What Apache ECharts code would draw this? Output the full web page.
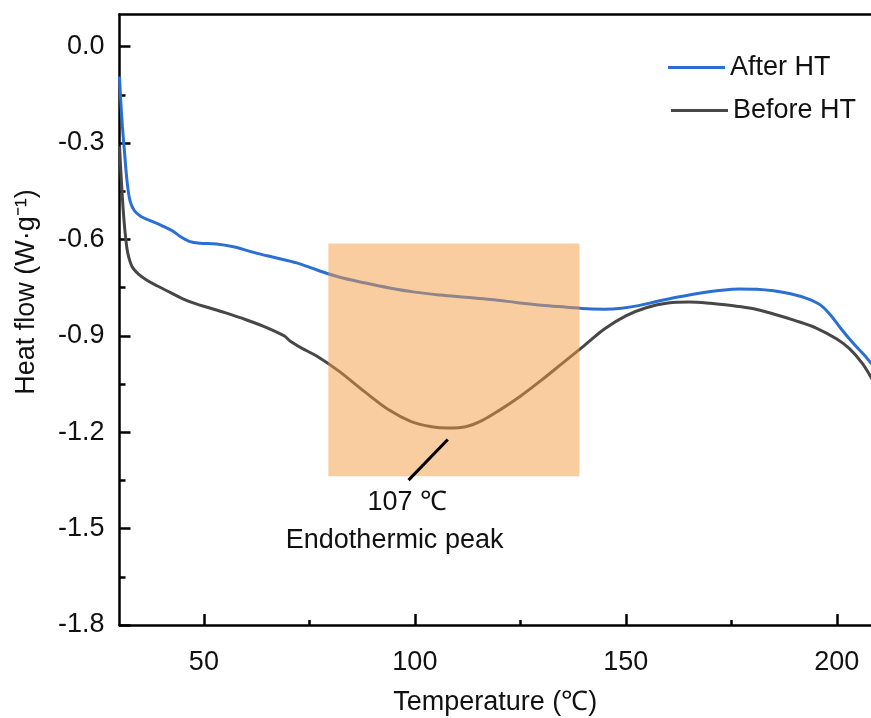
<!DOCTYPE html>
<html>
<head>
<meta charset="utf-8">
<script src="https://cdn.jsdelivr.net/npm/echarts@6/dist/echarts.min.js"></script>
<style>
  html, body { margin: 0; padding: 0; background: #fff; }
  #chart { width: 871px; height: 718px; }
</style>
</head>
<body>
<div id="chart"></div>
<script>
// DSC heat-flow curves (temperature in °C, heat flow in W/g)
const afterT = [30.0, 30.3, 30.7, 31.2, 31.8, 32.5, 33.5, 35.0, 37.0, 40.0, 42.5, 44.5, 46.5, 49.0, 53.0, 57.0,
  62.0, 67.0, 72.0, 77.0, 82.0, 88.0, 94.0, 100.0, 106.0, 112.0, 118.0, 124.0, 130.0, 136.0, 141.0, 145.0,
  149.0, 153.0, 157.0, 162.0, 167.0, 172.0, 177.0, 181.0, 185.0, 189.0, 193.0, 196.0, 198.5, 201.0, 204.0,
  206.5, 208.1, 209.5];
const afterV = [-0.093, -0.170, -0.250, -0.330, -0.420, -0.480, -0.510, -0.528, -0.540, -0.557, -0.573, -0.592, -0.606, -0.612, -0.614, -0.623,
  -0.641, -0.657, -0.673, -0.696, -0.717, -0.735, -0.751, -0.764, -0.773, -0.780, -0.787, -0.796, -0.805, -0.811, -0.816, -0.817,
  -0.814, -0.806, -0.794, -0.780, -0.768, -0.759, -0.754, -0.755, -0.760, -0.769, -0.784, -0.803, -0.835, -0.878, -0.925,
  -0.960, -0.985, -1.005];

const beforeT = [30.0, 30.5, 31.0, 31.5, 32.0, 33.0, 34.5, 36.5, 39.0, 42.0, 45.0, 48.0, 51.0, 55.0, 60.0, 65.0,
  69.0, 70.5, 73.0, 77.0, 82.0, 88.0, 94.0, 99.0, 104.0, 108.0, 112.0, 116.0, 120.0, 125.0, 130.0, 135.0,
  140.0, 145.0, 150.0, 155.0, 160.0, 165.0, 170.0, 175.0, 180.0, 185.0, 190.0, 195.0, 200.0, 203.0, 206.0,
  208.1, 209.5];
const beforeV = [-0.310, -0.430, -0.530, -0.600, -0.645, -0.685, -0.708, -0.727, -0.745, -0.765, -0.785, -0.800, -0.812, -0.828, -0.850, -0.875,
  -0.900, -0.917, -0.937, -0.965, -1.010, -1.073, -1.132, -1.166, -1.183, -1.187, -1.183, -1.163, -1.132, -1.088, -1.038, -0.985,
  -0.932, -0.878, -0.838, -0.812, -0.798, -0.795, -0.799, -0.806, -0.815, -0.832, -0.852, -0.875, -0.910, -0.940, -0.985,
  -1.029, -1.065];

// axis ticks
const xMajor = [50, 100, 150, 200];
const xMinor = [75, 125, 175];
const yMajor = [-1.8, -1.5, -1.2, -0.9, -0.6, -0.3, 0.0];
const yMinor = [-1.65, -1.35, -1.05, -0.75, -0.45, -0.15];

// highlighted endothermic region and its callout
const peakBox = { x0: 79.5, x1: 139.0, y0: -0.613, y1: -1.337 };
const calloutLine = [[107.8, -1.2226], [98.5, -1.349]];
const peakLabel = '107 ℃';
const peakLabelAt = [98.2, -1.4175];
const peakCaption = 'Endothermic peak';
const peakCaptionAt = [95.2, -1.536];

const FONT = "'Liberation Sans', Arial, sans-serif";
const FS = 27;
const zip = (xs, ys) => xs.map((x, i) => [x, ys[i]]);

const chart = echarts.init(document.getElementById('chart'), null, { renderer: 'canvas' });

const X_MIN = 30, X_MAX = 208.1, Y_MIN = -1.8, Y_MAX = 0.1;

const option = {
  animation: false,
  backgroundColor: '#ffffff',
  grid: { left: 119.5, right: 0, top: 14.5, bottom: 93, containLabel: false, outerBoundsMode: 'none' },
  legend: [
    {
      data: ['After HT'], left: 663, top: 49, icon: 'rect', itemWidth: 57, itemHeight: 3,
      textStyle: { fontFamily: FONT, fontSize: FS, color: '#111' }
    },
    {
      data: ['Before HT'], left: 666, top: 92, icon: 'rect', itemWidth: 57, itemHeight: 3,
      textStyle: { fontFamily: FONT, fontSize: FS, color: '#111' }
    }
  ],
  xAxis: [
    {
      type: 'value', min: X_MIN, max: X_MAX, position: 'bottom',
      name: 'Temperature (℃)', nameLocation: 'middle', nameGap: 64,
      nameTextStyle: { fontFamily: FONT, fontSize: FS, color: '#111' },
      axisLine: { onZero: false, lineStyle: { color: '#000', width: 2.5 } },
      axisTick: { inside: true, length: 11, lineStyle: { color: '#000', width: 2.5 }, customValues: xMajor },
      axisLabel: { customValues: xMajor, fontFamily: FONT, fontSize: FS, color: '#111', margin: 24 },
      splitLine: { show: false }
    },
    {
      type: 'value', min: X_MIN, max: X_MAX, position: 'bottom', gridIndex: 0,
      axisLine: { show: false, onZero: false },
      axisTick: { inside: true, length: 5, lineStyle: { color: '#000', width: 2.5 }, customValues: xMinor },
      axisLabel: { show: false },
      splitLine: { show: false }
    },
    {
      type: 'value', min: X_MIN, max: X_MAX, position: 'top', gridIndex: 0,
      axisLine: { onZero: false, lineStyle: { color: '#000', width: 2.5 } },
      axisTick: { show: false }, axisLabel: { show: false }, splitLine: { show: false }
    }
  ],
  yAxis: [
    {
      type: 'value', min: Y_MIN, max: Y_MAX, position: 'left',
      axisLine: { onZero: false, lineStyle: { color: '#000', width: 2.5 } },
      axisTick: { inside: true, length: 11, lineStyle: { color: '#000', width: 2.5 }, customValues: yMajor },
      axisLabel: {
        customValues: yMajor, fontFamily: FONT, fontSize: FS, color: '#111', margin: 15,
        formatter: v => v.toFixed(1)
      },
      splitLine: { show: false }
    },
    {
      type: 'value', min: Y_MIN, max: Y_MAX, position: 'left', gridIndex: 0,
      axisLine: { show: false, onZero: false },
      axisTick: { inside: true, length: 6, lineStyle: { color: '#000', width: 2.5 }, customValues: yMinor },
      axisLabel: { show: false },
      splitLine: { show: false }
    }
  ],
  series: [
    {
      name: 'Before HT', type: 'line', symbol: 'none', smooth: 0.35,
      clip: true, z: 2,
      lineStyle: { color: '#474747', width: 3 }, itemStyle: { color: '#474747' },
      data: zip(beforeT, beforeV)
    },
    {
      name: 'After HT', type: 'line', symbol: 'none', smooth: 0.35,
      clip: true, z: 3,
      lineStyle: { color: '#2a6fd4', width: 3 }, itemStyle: { color: '#2a6fd4' },
      data: zip(afterT, afterV)
    }
  ]
};

chart.setOption(option);

// annotations placed through the axes' own scales
const px = p => chart.convertToPixel({ xAxisIndex: 0, yAxisIndex: 0 }, p);
const a = px([peakBox.x0, peakBox.y0]);
const b = px([peakBox.x1, peakBox.y1]);
const l0 = px(calloutLine[0]);
const l1 = px(calloutLine[1]);
const t0 = px(peakLabelAt);
const t1 = px(peakCaptionAt);

chart.setOption({
  graphic: [
    {
      type: 'rect', z: 100, silent: true,
      shape: { x: a[0], y: a[1], width: b[0] - a[0], height: b[1] - a[1] },
      style: { fill: 'rgba(243,155,65,0.5)' }
    },
    {
      type: 'line', z: 101, silent: true,
      shape: { x1: l0[0], y1: l0[1], x2: l1[0], y2: l1[1] },
      style: { stroke: '#000', lineWidth: 3 }
    },
    {
      type: 'text', z: 101, silent: true, x: t0[0], y: t0[1],
      style: { text: peakLabel, font: FS + "px " + FONT, fill: '#111', textAlign: 'center', textVerticalAlign: 'middle' }
    },
    {
      type: 'text', z: 101, silent: true, x: t1[0], y: t1[1],
      style: { text: peakCaption, font: FS + "px " + FONT, fill: '#111', textAlign: 'center', textVerticalAlign: 'middle' }
    },
    {
      type: 'text', z: 101, silent: true, x: 27, y: 292, rotation: Math.PI / 2,
      style: { text: 'Heat flow (W·g⁻¹)', font: FS + "px " + FONT, fill: '#111', textAlign: 'center', textVerticalAlign: 'middle' }
    }
  ]
});
</script>
</body>
</html>
